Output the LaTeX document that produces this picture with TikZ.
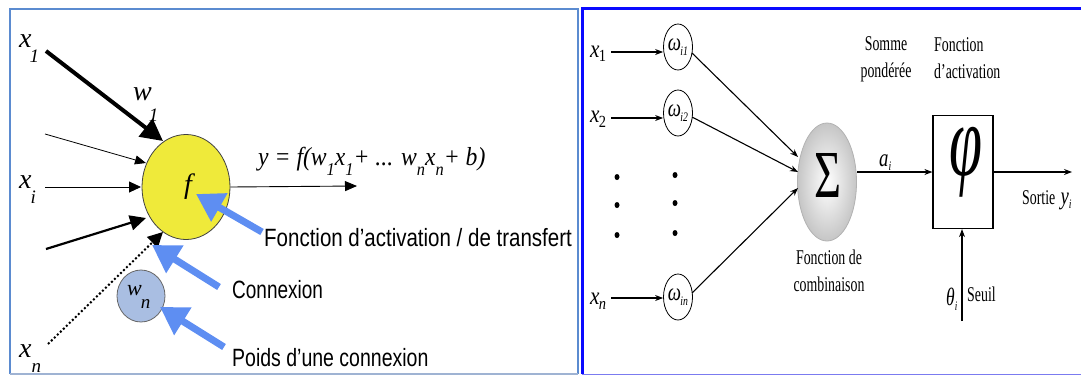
\documentclass[tikz,border=0pt]{standalone}
\usepackage{fontspec}
\setmainfont{Liberation Serif}
\newfontfamily\sansf{Liberation Sans}
\usetikzlibrary{arrows.meta,shapes.geometric}
\definecolor{lborder}{HTML}{5B8BD0}
\definecolor{lborderb}{HTML}{9FB3D3}
\definecolor{rborder}{HTML}{0A0AFF}
\definecolor{rborderb}{HTML}{7B7BF0}
\definecolor{fyellow}{HTML}{EFEA3A}
\definecolor{wnblue}{HTML}{A9BEE2}
\definecolor{ablue}{HTML}{5E8EF2}
\newcommand\lsub[1]{\raisebox{-0.42em}{\fontsize{18}{18}\selectfont #1}}
% letter with a low subscript: #1 letter, #2 subscript, #3 kern, #4 drop
\newcommand\lowsub[4]{#1\kern#3\raisebox{-#4}{\fontsize{19}{19}\selectfont #2}}
\newcommand\rsc[1]{\scalebox{0.66}[1]{#1}}
\begin{document}
\begin{tikzpicture}[x=1pt,y=-1pt,
  ilbl/.style={inner sep=0pt, anchor=base west, font=\fontsize{28}{28}\selectfont\itshape},
  sanslbl/.style={inner sep=0pt, anchor=base west, font=\fontsize{25}{25}\selectfont\sansf},
  bluearrow/.style={line width=7pt, ablue, -{Triangle[length=27pt,width=31pt]}},
  rlbl/.style={inner sep=0pt, font=\fontsize{21}{27}\selectfont},
  rit/.style={inner sep=0pt, anchor=base west, font=\fontsize{25}{25}\selectfont\itshape},
  rarrow/.style={line width=1.1pt, -{Stealth[length=8pt,width=6pt]}},
  wcirc/.style={ellipse, draw, line width=0.8pt, minimum width=29pt, minimum height=46pt, inner sep=0pt},
  dotnode/.style={ellipse, fill=black, inner sep=0pt, minimum width=5pt, minimum height=6pt}
]
\useasboundingbox (0,0) rectangle (1081,376);
% panel borders
\draw[lborder, line width=2.5pt] (10,374) -- (10,9) -- (578,9) -- (578,374);
\draw[lborderb, line width=1.5pt] (10,374) -- (578,374);
\draw[rborder, line width=3pt] (582,374) -- (582,8) -- (1081,8);
\draw[rborderb, line width=1.5pt] (582,374.5) -- (1081,374.5);

% ===== LEFT PANEL =====
\node[ellipse, draw=black!75, line width=0.8pt, fill=fyellow, minimum width=88pt, minimum height=105pt] (f) at (186,187) {};
\node[inner sep=0pt, font=\fontsize{28}{28}\selectfont\itshape] (flbl) at (188,187) {f};

\node[ellipse, draw=black!60, line width=0.8pt, fill=wnblue, minimum width=48pt, minimum height=52pt] (wn) at (141,296) {};
\node[inner sep=0pt, anchor=base west, font=\fontsize{22}{22}\selectfont\itshape] (wnw) at (127,295)
  {w\kern-1pt\raisebox{-13pt}{\fontsize{19}{19}\selectfont n}};

\node[ilbl] (x1) at (19,47) {\lowsub{x}{1}{-2pt}{15pt}};
\node[ilbl] (w1) at (133,100) {\lowsub{w}{1}{-3pt}{21pt}};
\node[ilbl] (xi) at (19,188) {\lowsub{x}{i}{-1pt}{15pt}};
\node[ilbl] (xn) at (19,357) {\lowsub{x}{n}{0pt}{15pt}};

\coordinate (a1s) at (46,51);  \coordinate (a1t) at (163,141);
\coordinate (a2s) at (45,134); \coordinate (a2t) at (146,163);
\coordinate (a3s) at (45,187); \coordinate (a3t) at (141,187);
\coordinate (a4s) at (46,249); \coordinate (a4t) at (146,218);
\coordinate (a5s) at (48,344); \coordinate (a5t) at (163,232);
\coordinate (outt) at (357,186);

\draw[line width=4pt, -{Triangle[length=22pt,width=22pt]}] (a1s) -- (a1t);
\draw[line width=0.8pt, -{Triangle[length=11pt,width=9pt]}] (a2s) -- (a2t);
\draw[line width=0.9pt, -{Triangle[length=12pt,width=11pt]}] (a3s) -- (a3t);
\draw[line width=2.2pt, -{Triangle[length=16pt,width=15pt]}] (a4s) -- (a4t);
\draw[line width=2pt, dash pattern=on 2pt off 2.2pt, -{Triangle[length=15pt,width=15pt]}] (a5s) -- (a5t);
\draw[line width=0.9pt, -{Triangle[length=12pt,width=10pt]}] (f.east) -- (outt);

\node[inner sep=0pt, anchor=base west, font=\fontsize{26}{26}\selectfont\itshape] (eq) at (258,165)
  {\scalebox{0.91}[1]{y = f(w\lsub{1}x\lsub{1}+ ... w\lsub{n}x\lsub{n}+ b)}};

\coordinate (b1s) at (262,232); \coordinate (b1t) at (196,194);
\coordinate (b2s) at (219,287); \coordinate (b2t) at (152,245);
\coordinate (b3s) at (224,347); \coordinate (b3t) at (160,307);
\draw[bluearrow] (b1s) -- (b1t);
\draw[bluearrow] (b2s) -- (b2t);
\draw[bluearrow] (b3s) -- (b3t);

\node[sanslbl] (tf) at (264,246) {\scalebox{0.82}[1]{Fonction d’activation / de transfert}};
\node[sanslbl] (tc) at (232,298) {\scalebox{0.76}[1]{Connexion}};
\node[sanslbl] (tp) at (232,366) {\scalebox{0.78}[1]{Poids d’une connexion}};

% ===== RIGHT PANEL =====
\node[rit] (rx1) at (590,57) {\scalebox{0.85}[1]{x\kern-1pt\raisebox{-4pt}{\fontsize{17}{17}\selectfont\upshape 1}}};
\node[rit] (rx2) at (590,122) {\scalebox{0.85}[1]{x\kern-1pt\raisebox{-5pt}{\fontsize{17}{17}\selectfont\upshape 2}}};
\node[rit] (rxn) at (590,304) {\scalebox{0.85}[1]{x\kern-1pt\raisebox{-5pt}{\fontsize{17}{17}\selectfont n}}};

\node[wcirc] (w1c) at (678,47) {\scalebox{0.75}[1]{\fontsize{25}{25}\selectfont\itshape ω\kern-1pt\raisebox{-0.2em}{\fontsize{13}{13}\selectfont i1}}};
\node[wcirc] (w2c) at (678,113) {\scalebox{0.75}[1]{\fontsize{25}{25}\selectfont\itshape ω\kern-1pt\raisebox{-0.2em}{\fontsize{13}{13}\selectfont i2}}};
\node[wcirc] (wnc) at (678,297) {\scalebox{0.75}[1]{\fontsize{25}{25}\selectfont\itshape ω\kern-1pt\raisebox{-0.2em}{\fontsize{13}{13}\selectfont in}}};

\coordinate (rx1e) at (611,52); \coordinate (rx2e) at (611,118); \coordinate (rxne) at (611,298);
\draw[rarrow] (rx1e) -- (w1c.west |- rx1e);
\draw[rarrow] (rx2e) -- (w2c.west |- rx2e);
\draw[rarrow] (rxne) -- (wnc.west |- rxne);

\node[dotnode] (d11) at (617,177) {};
\node[dotnode] (d12) at (617,205) {};
\node[dotnode] (d13) at (617,235) {};
\node[dotnode] (d21) at (675,175) {};
\node[dotnode] (d22) at (675,203) {};
\node[dotnode] (d23) at (675,233) {};

\node[ellipse, minimum width=59pt, minimum height=118pt, inner sep=0pt, draw=gray!60, line width=0.8pt,
      shading=radial, inner color=white, outer color=gray!45] (sig) at (827,182) {};
\node[inner sep=0pt] (siglbl) at (828,175) {\resizebox*{27pt}{44pt}{Σ}};

\coordinate (c1) at (798,157); \coordinate (c2) at (798,172); \coordinate (c3) at (798,188);
\coordinate (s1) at (692,53); \coordinate (s2) at (692,117); \coordinate (s3) at (692,293);
\draw[rarrow] (s1) -- (c1);
\draw[rarrow] (s2) -- (c2);
\draw[rarrow] (s3) -- (c3);

\node[draw, line width=1.2pt, minimum width=60pt, minimum height=113pt, inner sep=0pt] (phi) at (963,172) {};
\node[inner sep=0pt] (philbl) at (966,162) {\resizebox*{33pt}{70pt}{\itshape φ}};

\coordinate (sigout) at (857,172);
\draw[rarrow] (sigout) -- (phi.west |- sigout);
\coordinate (yout) at (1072,172);
\draw[rarrow] (phi.east |- yout) -- (yout);
\coordinate (thb) at (962,321);
\draw[rarrow] (thb) -- (thb |- phi.south);

\node[rit] (ai) at (879,166) {\scalebox{0.75}[1]{a\raisebox{-4pt}{\fontsize{13}{13}\selectfont i}}};
\node[rlbl, align=center] (somme) at (886,59) {\rsc{Somme}\\\rsc{pondérée}};
\node[rlbl, align=left, anchor=north west] (fact) at (934,37) {\rsc{Fonction}\\\rsc{d’activation}};
\node[rlbl, align=center] (fcomb) at (829,271) {\rsc{Fonction de}\\\rsc{combinaison}};
\node[inner sep=0pt, anchor=base west, font=\fontsize{21}{21}\selectfont] (sortie) at (1022,204) {\rsc{Sortie} \scalebox{0.75}[1]{\fontsize{25}{25}\selectfont\itshape y\raisebox{-4pt}{\fontsize{13}{13}\selectfont i}}};
\node[rit] (theta) at (946,305) {\scalebox{0.7}[1]{θ\raisebox{-5pt}{\fontsize{13}{13}\selectfont i}}};
\node[inner sep=0pt, anchor=base west, font=\fontsize{21}{21}\selectfont] (seuil) at (967,301) {\rsc{Seuil}};
\end{tikzpicture}
\end{document}
